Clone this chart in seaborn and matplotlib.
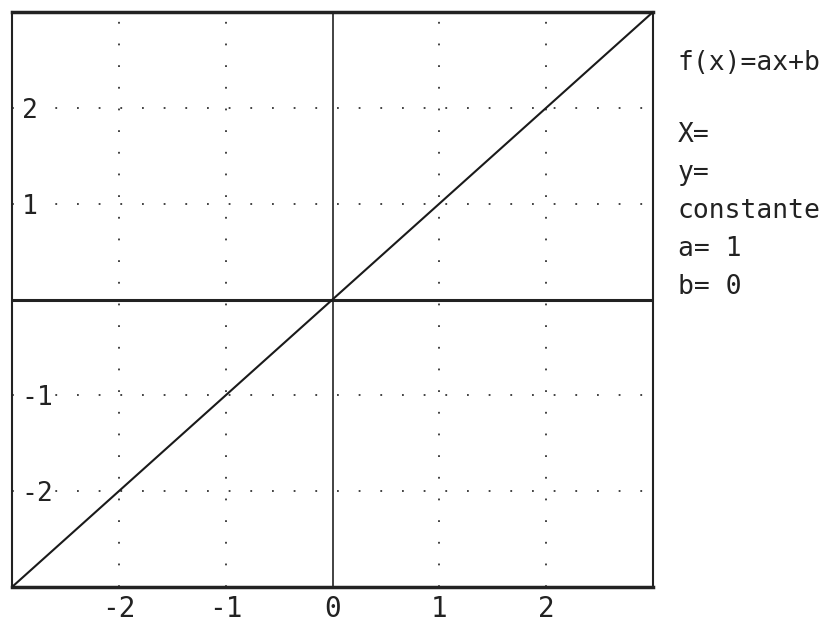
import matplotlib
matplotlib.use("Agg")
import matplotlib.pyplot as plt
import seaborn as sns
import numpy as np
import pandas as pd

# données de la droite f(x)=ax+b
a = 1
b = 0
x_vals = [-3, 3]
y_vals = [a * x_vals[0] + b, a * x_vals[1] + b]
ticks = [-2, -1, 0, 1, 2]
x_tick_labels = ["-2", "-1", "0", "1", "2"]
y_tick_labels = ["-2", "-1", "", "1", "2"]
info_lines = ["f(x)=ax+b", "X=", "y=", "constante", "a= 1", "b= 0"]
info_rows = [63, 135, 173, 211, 249, 287]  # position verticale (px)

df = pd.DataFrame({"x": x_vals, "y": y_vals})

sns.set_style("white")
plt.rcParams["font.family"] = ["DejaVu Sans Mono"]

fig = plt.figure(figsize=(8.23, 6.35), dpi=100)
ax = fig.add_axes([12 / 823, 48 / 635, 641 / 823, 575 / 635])
ax.set_axisbelow(False)

sns.lineplot(data=df, x="x", y="y", ax=ax, color="#1a1a1a", linewidth=1.5, zorder=3)

ax.set_xlim(-3, 3)
ax.set_ylim(-3, 3)

# grille en pointillés
for t in ticks:
    if t == 0:
        continue
    ax.axvline(t, color="#333333", linestyle=(0, (1, 11)), linewidth=1.3, zorder=1)
    ax.axhline(t, color="#333333", linestyle=(0, (1, 11)), linewidth=1.3, zorder=1)

# axes
ax.axvline(0, color="#222222", linewidth=1.2, zorder=2)
ax.axhline(0, color="#222222", linewidth=2.2, zorder=2)

for side in ["top", "bottom"]:
    ax.spines[side].set_linewidth(2.5)
    ax.spines[side].set_color("#222222")
for side in ["left", "right"]:
    ax.spines[side].set_linewidth(1.5)
    ax.spines[side].set_color("#222222")

ax.set_xticks(ticks)
ax.set_xticklabels(x_tick_labels, fontsize=20)
ax.set_yticks(ticks)
ax.set_yticklabels(y_tick_labels, fontsize=19)
ax.tick_params(axis="x", direction="in", length=8, width=1.2, pad=6, colors="#222222")
ax.tick_params(axis="y", direction="in", length=5, width=2.5, pad=-7, colors="#222222")
for lbl in ax.get_yticklabels():
    lbl.set_horizontalalignment("left")
    lbl.set_bbox(dict(facecolor="white", edgecolor="none", pad=1))
ax.set_xlabel("")
ax.set_ylabel("")

# texte à droite
for line, row in zip(info_lines, info_rows):
    fig.text(678 / 823, 1 - row / 635, line, fontsize=19, color="#222222",
             va="center", ha="left")

fig.savefig("out.png", dpi=100)
